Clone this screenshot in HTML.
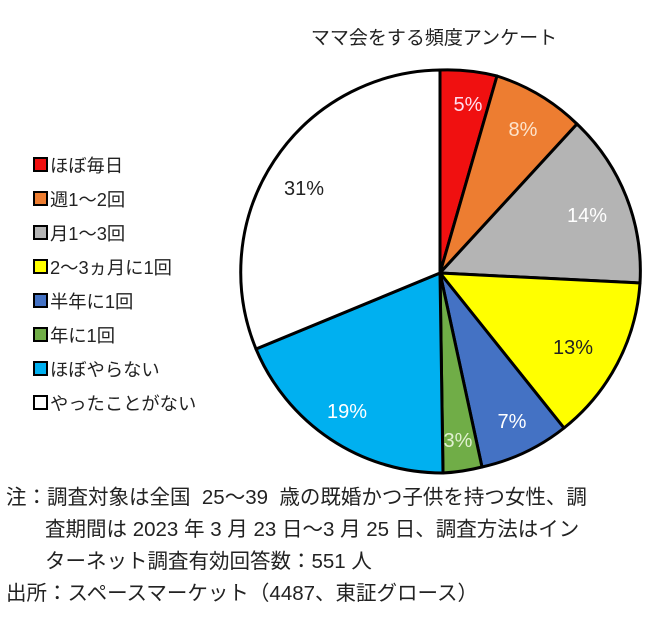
<!DOCTYPE html><html><head><meta charset="utf-8"><style>
body{margin:0;width:660px;height:621px;background:#fff;overflow:hidden;font-family:"Liberation Sans","Noto Sans CJK JP",sans-serif;}
</style></head><body>
<svg width="660" height="621" style="position:absolute;left:0;top:0" font-family="Liberation Sans, Noto Sans CJK JP, sans-serif">
<g stroke="#000" stroke-width="3" stroke-linejoin="round">
<path d="M440,273 L440,70 A202,202 0 0 1 497,76 Z" fill="#f01010"/>
<path d="M440,273 L497,76 A202,202 0 0 1 577,124 Z" fill="#ed7d31"/>
<path d="M440,273 L577,124 A202,202 0 0 1 640,283 Z" fill="#b4b4b4"/>
<path d="M440,273 L640,283 A202,202 0 0 1 564,428 Z" fill="#ffff00"/>
<path d="M440,273 L564,428 A202,202 0 0 1 482,467 Z" fill="#4472c4"/>
<path d="M440,273 L482,467 A202,202 0 0 1 443,473 Z" fill="#70ad47"/>
<path d="M440,273 L443,473 A202,202 0 0 1 256,349 Z" fill="#00b0f0"/>
<path d="M440,273 L256,349 A202,202 0 0 1 440,70 Z" fill="#fff"/>
</g>
<g font-size="20" text-anchor="middle">
<text x="468" y="111" fill="#fde">5%</text>
<text x="523" y="136" fill="#fde4cc">8%</text>
<text x="587" y="222" fill="#fff">14%</text>
<text x="573" y="354" fill="#222">13%</text>
<text x="512" y="428" fill="#fff">7%</text>
<text x="458" y="447" fill="#e0f0d0">3%</text>
<text x="347" y="418" fill="#fff">19%</text>
<text x="304" y="195" fill="#222">31%</text>
</g>
<text x="434" y="44" font-size="19" text-anchor="middle" fill="#222">ママ会をする頻度アンケート</text>
<g stroke="#000" stroke-width="2">
<rect x="34" y="158" width="13" height="13" fill="#f01010"/>
<rect x="34" y="192" width="13" height="13" fill="#ed7d31"/>
<rect x="34" y="226" width="13" height="13" fill="#b4b4b4"/>
<rect x="34" y="260" width="13" height="13" fill="#ffff00"/>
<rect x="34" y="294" width="13" height="13" fill="#4472c4"/>
<rect x="34" y="328" width="13" height="13" fill="#70ad47"/>
<rect x="34" y="362" width="13" height="13" fill="#00b0f0"/>
<rect x="34" y="396" width="13" height="13" fill="#fff"/>
</g>
<g font-size="18.3" fill="#222">
<text x="50" y="172">ほぼ毎日</text>
<text x="50" y="206">週1～2回</text>
<text x="50" y="240">月1～3回</text>
<text x="50" y="274">2～3ヵ月に1回</text>
<text x="50" y="308">半年に1回</text>
<text x="50" y="342">年に1回</text>
<text x="50" y="376">ほぼやらない</text>
<text x="50" y="410">やったことがない</text>
</g>
<g font-size="20.5" fill="#222">
<text x="6" y="504" xml:space="preserve">注：調査対象は全国  25～39  歳の既婚かつ子供を持つ女性、調</text>
<text x="45" y="536">査期間は 2023 年 3 月 23 日～3 月 25 日、調査方法はイン</text>
<text x="45" y="568">ターネット調査有効回答数：551 人</text>
<text x="6" y="600">出所：スペースマーケット（4487、東証グロース）</text>
</g>
</svg>
</body></html>
